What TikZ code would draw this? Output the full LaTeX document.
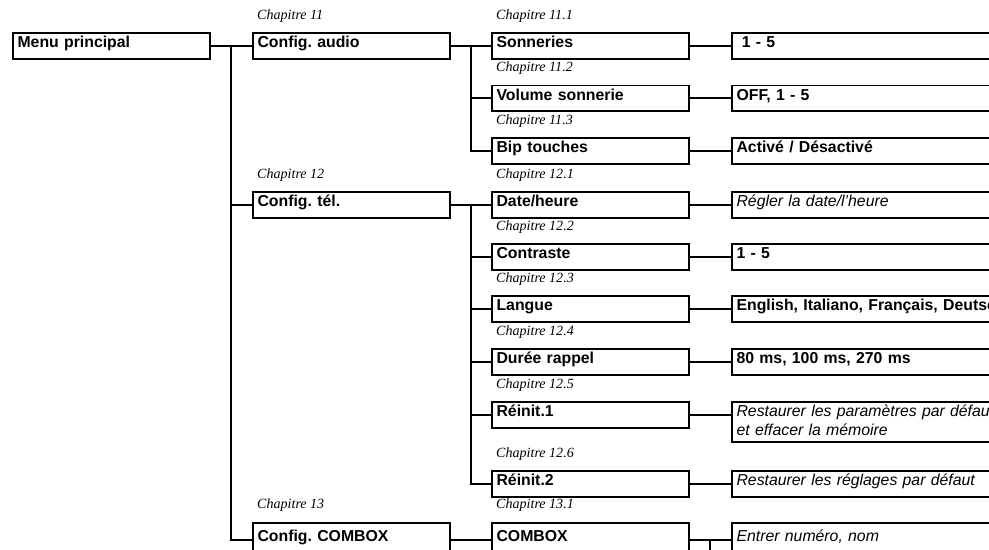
\documentclass[tikz,border=0pt]{standalone}
\usepackage{fontspec}
\setmainfont{Liberation Serif}
\setsansfont{Liberation Sans}
\usetikzlibrary{calc}

\begin{document}
\frenchspacing
\begin{tikzpicture}[x=0.03cm, y=-0.03cm,
    box/.style={draw, line width=1.5pt, anchor=north west, align=left, text width=160pt, inner xsep=4pt, inner ysep=2pt, text height=10.75pt, text depth=7.35pt, font=\sffamily\bfseries\fontsize{13.5}{16.2}\selectfont},
    val/.style={box, text width=248pt},
    note/.style={val, font=\sffamily\itshape\fontsize{13.5}{16.2}\selectfont},
    last/.style={minimum height=29pt},
    chap/.style={anchor=base west, inner sep=0pt, font=\itshape\fontsize{12}{14}\selectfont},
    link/.style={line width=1.6pt}
  ]
    \useasboundingbox (0,0) rectangle (989,549);
    \fill[white] (0,0) rectangle (989,549);
    \clip (0,0) rectangle (989,549);

    \node[box] (menu) at (12,32) {Menu principal};

    \node[box] (audio) at (252,32) {Config. audio};
    \node[box] (tel) at (252,191) {Config. tél.};
    \node[box, last] (cbx) at (252,522) {Config. COMBOX};

    \node[box] (son) at (491,32) {Sonneries};
    \node[box] (vol) at (491,84.5) {Volume sonnerie};
    \node[box] (bip) at (491,137) {Bip touches};
    \node[box] (dat) at (491,191) {Date/heure};
    \node[box] (con) at (491,243) {Contraste};
    \node[box] (lan) at (491,295) {Langue};
    \node[box] (dur) at (491,348) {Durée rappel};
    \node[box] (rea) at (491,401) {Réinit.1};
    \node[box] (reb) at (491,470) {Réinit.2};
    \node[box, last] (com) at (491,522) {COMBOX};

    \node[val] (vson) at (731,32) {\ 1 - 5};
    \node[val] (vvol) at (731,84.5) {OFF, 1 - 5};
    \node[val] (vbip) at (731,137) {Activé / Désactivé};
    \node[note] (vdat) at (731,191) {Régler la date/l’heure};
    \node[val] (vcon) at (731,243) {1 - 5};
    \node[val] (vlan) at (731,295) {English, Italiano, Français, Deutsch};
    \node[val] (vdur) at (731,348) {80 ms, 100 ms, 270 ms};
    \node[note, text depth=19.3pt] (vrea) at (731,401) {Restaurer les paramètres par défaut\\et effacer la mémoire};
    \node[note] (vreb) at (731,470) {Restaurer les réglages par défaut};
    \node[note, last] (vcom) at (731,522) {Entrer numéro, nom};

    \node[chap] (c11) at (257,19) {Chapitre 11};
    \node[chap] (c111) at (496,19) {Chapitre 11.1};
    \node[chap] (c112) at (496,71.5) {Chapitre 11.2};
    \node[chap] (c113) at (496,124) {Chapitre 11.3};
    \node[chap] (c12) at (257,178) {Chapitre 12};
    \node[chap] (c121) at (496,178) {Chapitre 12.1};
    \node[chap] (c122) at (496,230) {Chapitre 12.2};
    \node[chap] (c123) at (496,282) {Chapitre 12.3};
    \node[chap] (c124) at (496,335) {Chapitre 12.4};
    \node[chap] (c125) at (496,388) {Chapitre 12.5};
    \node[chap] (c126) at (496,457) {Chapitre 12.6};
    \node[chap] (c13) at (257,508) {Chapitre 13};
    \node[chap] (c131) at (496,508) {Chapitre 13.1};

    \coordinate (j1) at ($(menu.east)!0.5!(audio.west)$);
    \coordinate (j2) at ($(audio.east)!0.5!(son.west)$);
    \coordinate (j3) at ($(tel.east)!0.5!(dat.west)$);
    \coordinate (j4) at ($(com.east)!0.5!(vcom.west)$);
    \coordinate (j4end) at ($(j4)+(0,30)$);

    \draw[link] (menu) -- (audio);
    \draw[link] (j1) |- (tel);
    \draw[link] (j1) |- (cbx);

    \draw[link] (audio) -- (son);
    \draw[link] (j2) |- (vol);
    \draw[link] (j2) |- (bip);

    \draw[link] (tel) -- (dat);
    \draw[link] (j3) |- (con);
    \draw[link] (j3) |- (lan);
    \draw[link] (j3) |- (dur);
    \draw[link] (j3) |- (rea);
    \draw[link] (j3) |- (reb);

    \draw[link] (cbx) -- (com);

    \draw[link] (son) -- (vson);
    \draw[link] (vol) -- (vvol);
    \draw[link] (bip) -- (vbip);
    \draw[link] (dat) -- (vdat);
    \draw[link] (con) -- (vcon);
    \draw[link] (lan) -- (vlan);
    \draw[link] (dur) -- (vdur);
    \draw[link] (rea) -- (rea -| vrea.west);
    \draw[link] (reb) -- (vreb);
    \draw[link] (com) -- (vcom);
    \draw[link] (j4) -- (j4end);
  \end{tikzpicture}
\end{document}
